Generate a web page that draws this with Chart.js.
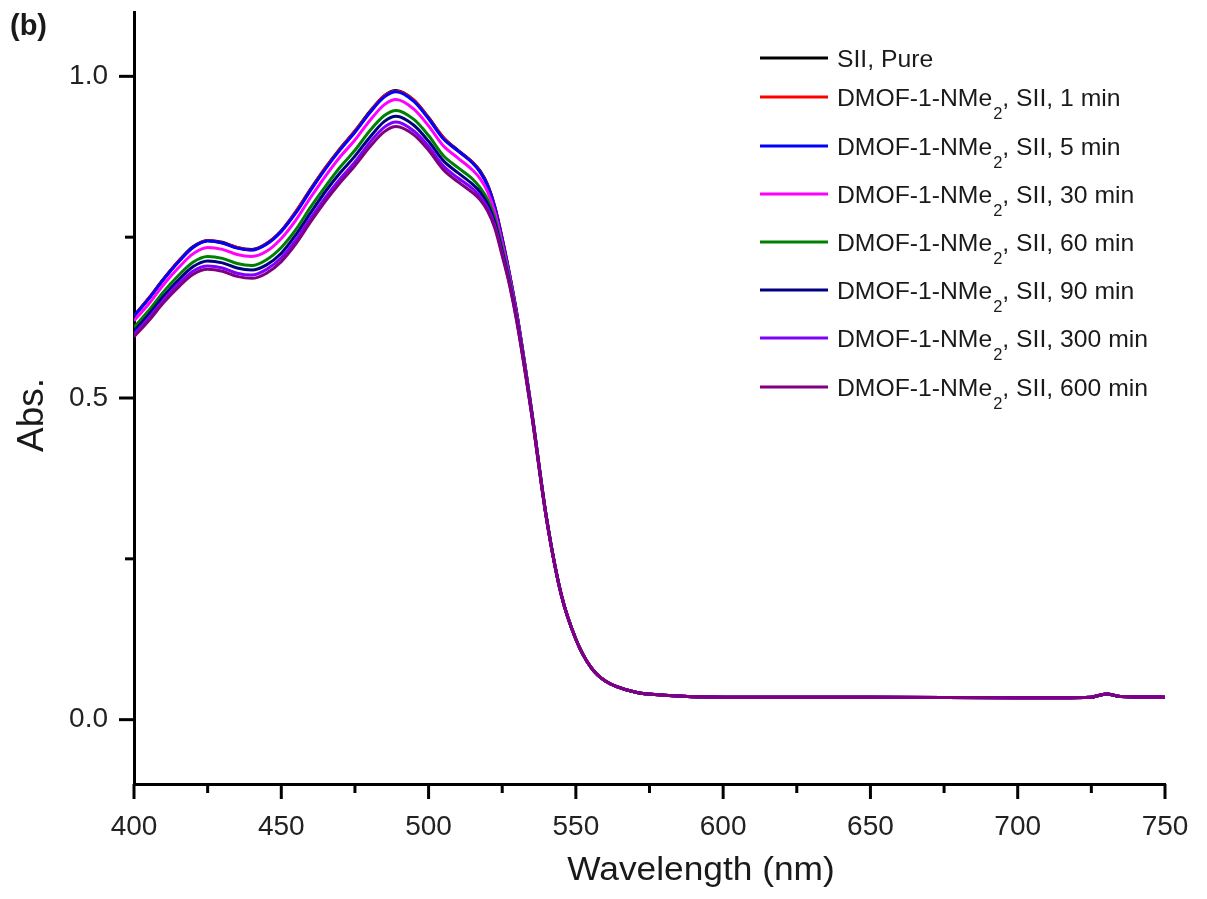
<!DOCTYPE html>
<html>
<head>
<meta charset="utf-8">
<title>Abs. vs Wavelength</title>
<script src="https://cdn.jsdelivr.net/npm/chart.js@4"></script>
<style>
  html, body { margin: 0; padding: 0; background: #fff; }
  #wrap { width: 1207px; height: 899px; }
</style>
</head>
<body>
<div id="wrap"><canvas id="spectra" width="1207" height="899"></canvas></div>
<script>
// wavelengths (nm) where the curves still differ
const wavelengths = [400, 405, 410, 415, 420, 425, 430, 435, 440, 445, 450, 455, 460, 465, 470,
  475, 480, 485, 489, 495, 500, 505, 510, 515, 517.5, 520, 522.5, 525, 527.5, 530, 535, 540];
// beyond ~545 nm all curves sit on top of each other
const tailWavelengths = [545, 550, 555, 560, 570, 580, 600, 650, 700, 725, 730, 735, 750];
const tailAbs = [0.195, 0.125, 0.082, 0.060, 0.043, 0.038, 0.035, 0.035, 0.034, 0.035, 0.040, 0.036, 0.035];

const absPure = [0.628, 0.655, 0.685, 0.712, 0.735, 0.745, 0.742, 0.734, 0.731, 0.740, 0.760, 0.790, 0.825, 0.858, 0.888,
  0.915, 0.945, 0.970, 0.978, 0.963, 0.936, 0.905, 0.885, 0.866, 0.853, 0.832, 0.797, 0.748, 0.692, 0.630, 0.480, 0.315];
const abs1min = [0.627, 0.655, 0.684, 0.712, 0.734, 0.745, 0.741, 0.734, 0.730, 0.740, 0.759, 0.790, 0.824, 0.858, 0.887,
  0.915, 0.944, 0.970, 0.977, 0.963, 0.935, 0.905, 0.884, 0.866, 0.852, 0.831, 0.797, 0.748, 0.692, 0.630, 0.480, 0.315];
const abs5min = [0.627, 0.654, 0.684, 0.711, 0.734, 0.744, 0.741, 0.733, 0.730, 0.739, 0.759, 0.788, 0.823, 0.856, 0.886,
  0.913, 0.943, 0.968, 0.976, 0.961, 0.934, 0.903, 0.884, 0.865, 0.851, 0.830, 0.796, 0.747, 0.692, 0.630, 0.480, 0.315];
const abs30min = [0.620, 0.646, 0.676, 0.702, 0.724, 0.734, 0.731, 0.723, 0.720, 0.728, 0.748, 0.777, 0.812, 0.845, 0.875,
  0.901, 0.931, 0.956, 0.964, 0.949, 0.923, 0.892, 0.873, 0.854, 0.841, 0.821, 0.789, 0.741, 0.688, 0.627, 0.478, 0.314];
const abs60min = [0.610, 0.636, 0.665, 0.690, 0.711, 0.720, 0.717, 0.709, 0.706, 0.715, 0.734, 0.762, 0.797, 0.829, 0.859,
  0.885, 0.915, 0.939, 0.947, 0.933, 0.908, 0.877, 0.858, 0.840, 0.827, 0.809, 0.779, 0.733, 0.683, 0.623, 0.477, 0.314];
const abs90min = [0.604, 0.630, 0.658, 0.683, 0.704, 0.713, 0.710, 0.702, 0.699, 0.707, 0.725, 0.754, 0.788, 0.821, 0.850,
  0.876, 0.905, 0.930, 0.938, 0.924, 0.899, 0.869, 0.850, 0.832, 0.820, 0.802, 0.773, 0.728, 0.680, 0.621, 0.476, 0.314];
const abs300min = [0.599, 0.624, 0.652, 0.677, 0.697, 0.705, 0.702, 0.694, 0.691, 0.700, 0.718, 0.746, 0.780, 0.812, 0.841,
  0.867, 0.897, 0.921, 0.929, 0.915, 0.891, 0.861, 0.842, 0.825, 0.813, 0.796, 0.768, 0.724, 0.677, 0.619, 0.475, 0.313];
const abs600min = [0.595, 0.620, 0.648, 0.672, 0.692, 0.700, 0.697, 0.689, 0.686, 0.694, 0.712, 0.740, 0.774, 0.806, 0.835,
  0.861, 0.890, 0.914, 0.922, 0.909, 0.885, 0.855, 0.836, 0.819, 0.808, 0.791, 0.764, 0.721, 0.675, 0.617, 0.474, 0.313];

const seriesNames = ['SII, Pure', 'DMOF-1-NMe₂, SII, 1 min', 'DMOF-1-NMe₂, SII, 5 min', 'DMOF-1-NMe₂, SII, 30 min',
  'DMOF-1-NMe₂, SII, 60 min', 'DMOF-1-NMe₂, SII, 90 min', 'DMOF-1-NMe₂, SII, 300 min', 'DMOF-1-NMe₂, SII, 600 min'];
// legend text split into [before subscript, subscript, after]
const legendParts = [
  ['SII, Pure', '', ''],
  ['DMOF-1-NMe', '2', ', SII, 1 min'],
  ['DMOF-1-NMe', '2', ', SII, 5 min'],
  ['DMOF-1-NMe', '2', ', SII, 30 min'],
  ['DMOF-1-NMe', '2', ', SII, 60 min'],
  ['DMOF-1-NMe', '2', ', SII, 90 min'],
  ['DMOF-1-NMe', '2', ', SII, 300 min'],
  ['DMOF-1-NMe', '2', ', SII, 600 min']
];
const seriesValues = [absPure, abs1min, abs5min, abs30min, abs60min, abs90min, abs300min, abs600min];
const seriesColors = ['#000000', '#ff0000', '#0000ff', '#ff00ff', '#008000', '#000080', '#8000ff', '#800080'];

const xMajor = [400, 450, 500, 550, 600, 650, 700, 750];
const xMinor = [425, 475, 525, 575, 625, 675, 725];
const yMajor = [0, 0.5, 1.0];
const yMinor = [0.25, 0.75];

const FONT = "'Liberation Sans', Arial, sans-serif";

function toPoints(vals) {
  const pts = wavelengths.map((w, i) => ({ x: w, y: vals[i] }));
  tailWavelengths.forEach((w, i) => pts.push({ x: w, y: tailAbs[i] }));
  return pts;
}

// small helper: text with a horizontal stretch like the original figure
function stretchedText(ctx, str, x, y, sx) {
  ctx.save();
  ctx.translate(x, y);
  ctx.scale(sx, 1);
  ctx.fillText(str, 0, 0);
  ctx.restore();
}

const decorations = {
  id: 'decorations',
  afterDraw(chart) {
    const { ctx, chartArea: a, scales: { x, y } } = chart;
    ctx.save();
    ctx.strokeStyle = '#000';
    ctx.lineWidth = 3;
    ctx.lineCap = 'butt';

    // tick marks, outside the axes
    const line = (x1, y1, x2, y2) => { ctx.beginPath(); ctx.moveTo(x1, y1); ctx.lineTo(x2, y2); ctx.stroke(); };
    xMajor.forEach(v => { const p = x.getPixelForValue(v); line(p, a.bottom, p, a.bottom + 15); });
    xMinor.forEach(v => { const p = x.getPixelForValue(v); line(p, a.bottom, p, a.bottom + 9); });
    yMajor.forEach(v => { const p = y.getPixelForValue(v); line(a.left, p, a.left - 15, p); });
    yMinor.forEach(v => { const p = y.getPixelForValue(v); line(a.left, p, a.left - 9, p); });

    ctx.fillStyle = '#1a1a1a';
    // axis titles
    ctx.font = '33px ' + FONT;
    ctx.textAlign = 'center';
    ctx.textBaseline = 'alphabetic';
    stretchedText(ctx, 'Wavelength (nm)', 701, 880, 1.07);

    ctx.save();
    ctx.translate(43, 415);
    ctx.rotate(-Math.PI / 2);
    ctx.font = '37px ' + FONT;
    ctx.fillText('Abs.', 0, 0);
    ctx.restore();

    // panel letter
    ctx.textAlign = 'left';
    ctx.font = 'bold 29px ' + FONT;
    ctx.fillText('(b)', 10, 35);

    // legend
    const rowY = [58, 97, 146, 194, 242, 290, 338, 387];
    legendParts.forEach((parts, i) => {
      const ry = rowY[i];
      ctx.strokeStyle = seriesColors[i];
      ctx.lineWidth = 3;
      line(760, ry, 828, ry);
      ctx.fillStyle = '#1a1a1a';
      ctx.textBaseline = 'alphabetic';
      ctx.font = '24px ' + FONT;
      let tx = 837;
      const sx = 1.03;
      stretchedText(ctx, parts[0], tx, ry + 8.5, sx);
      tx += ctx.measureText(parts[0]).width * sx;
      if (parts[1]) {
        ctx.font = '16px ' + FONT;
        stretchedText(ctx, parts[1], tx + 1, ry + 22, sx);
        tx += ctx.measureText(parts[1]).width * sx + 1;
        ctx.font = '24px ' + FONT;
        stretchedText(ctx, parts[2], tx, ry + 8.5, sx);
      }
    });
    ctx.restore();
  }
};

new Chart(document.getElementById('spectra'), {
  type: 'line',
  data: {
    datasets: seriesValues.map((vals, i) => ({
      label: seriesNames[i],
      data: toPoints(vals),
      borderColor: seriesColors[i],
      backgroundColor: seriesColors[i],
      borderWidth: 3,
      pointRadius: 0,
      cubicInterpolationMode: 'monotone',
      fill: false,
      order: seriesValues.length - i // later series drawn on top
    }))
  },
  options: {
    responsive: false,
    devicePixelRatio: 1,
    animation: false,
    layout: { padding: { top: 12, right: 42, left: 0, bottom: 0 } },
    plugins: { legend: { display: false }, tooltip: { enabled: false } },
    scales: {
      x: {
        type: 'linear',
        min: 400,
        max: 750,
        afterFit: s => { s.height = 115; s.paddingLeft = 0; s.paddingRight = 0; },
        afterBuildTicks: s => { s.ticks = xMajor.map(v => ({ value: v })); },
        grid: { display: false, drawTicks: false },
        border: { display: true, color: '#000', width: 3 },
        ticks: {
          padding: 26,
          color: '#222',
          font: { family: FONT, size: 28 },
          maxRotation: 0,
          callback: v => String(v)
        }
      },
      y: {
        type: 'linear',
        min: -0.1,
        max: 1.1,
        afterFit: s => { s.width = 134; s.paddingTop = 0; s.paddingBottom = 0; },
        afterBuildTicks: s => { s.ticks = yMajor.map(v => ({ value: v })); },
        grid: { display: false, drawTicks: false },
        border: { display: true, color: '#000', width: 3 },
        ticks: {
          padding: 26,
          color: '#222',
          font: { family: FONT, size: 28 },
          callback: v => Number(v).toFixed(1)
        }
      }
    }
  },
  plugins: [decorations]
});
</script>
</body>
</html>
